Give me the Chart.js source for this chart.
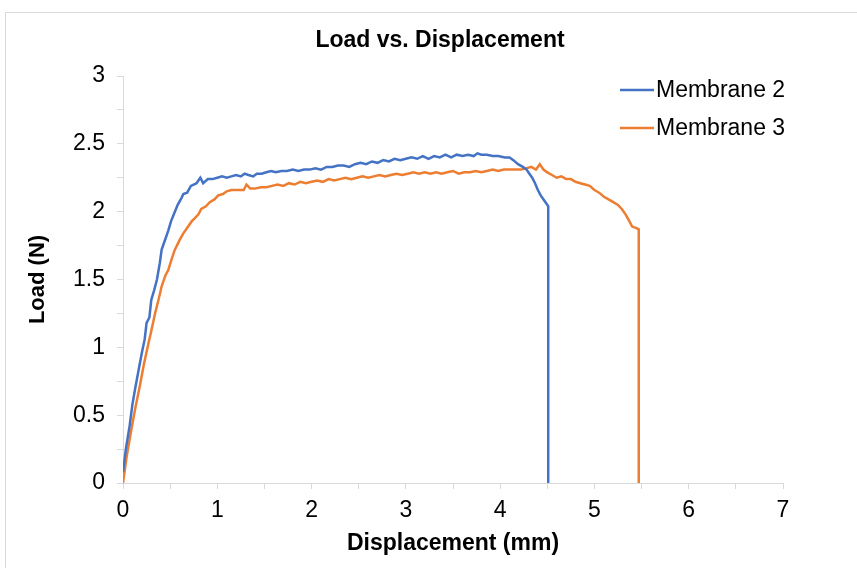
<!DOCTYPE html>
<html>
<head>
<meta charset="utf-8">
<title>Load vs. Displacement</title>
<script src="https://cdn.jsdelivr.net/npm/chart.js@4/dist/chart.umd.min.js"></script>
<style>
    body { margin: 0; background: #fff; overflow: hidden; }
    #frame { position: absolute; left: 5px; top: 12px; width: 900px; height: 600px; border: 1px solid #d9d9d9; }
    #loadChart { position: absolute; left: 0; top: 0; }
</style>
</head>
<body>
<div id="frame"></div>
<canvas id="loadChart" width="857" height="568"></canvas>
<script>
// Membrane 2 test trace (displacement in mm, load in N)
const m2Disp = [0, 0.03, 0.07, 0.10, 0.13, 0.17, 0.20, 0.23, 0.25, 0.28,
    0.30, 0.33, 0.36, 0.39, 0.41, 0.44, 0.48, 0.51, 0.55, 0.58,
    0.62, 0.64, 0.68, 0.72, 0.75, 0.78, 0.82, 0.85, 0.90, 0.95,
    1.00, 1.05, 1.10, 1.15, 1.20, 1.25, 1.29, 1.33, 1.38, 1.42,
    1.47, 1.52, 1.57, 1.62, 1.68, 1.74, 1.80, 1.86, 1.92, 1.98,
    2.04, 2.10, 2.16, 2.22, 2.28, 2.34, 2.40, 2.46, 2.52, 2.58,
    2.64, 2.70, 2.76, 2.82, 2.88, 2.94, 3.00, 3.06, 3.12, 3.18,
    3.24, 3.30, 3.36, 3.42, 3.48, 3.54, 3.60, 3.66, 3.72, 3.76,
    3.80, 3.86, 3.92, 3.98, 4.05, 4.10, 4.14, 4.19, 4.24, 4.28,
    4.31, 4.34, 4.37, 4.40, 4.43, 4.46, 4.49, 4.51, 4.51];
const m2Load = [0.08, 0.25, 0.42, 0.58, 0.70, 0.85, 0.96, 1.06, 1.18, 1.22,
    1.35, 1.42, 1.50, 1.62, 1.72, 1.78, 1.86, 1.93, 2.00, 2.05,
    2.10, 2.13, 2.14, 2.19, 2.20, 2.21, 2.25, 2.21, 2.24, 2.24,
    2.25, 2.26, 2.25, 2.26, 2.27, 2.26, 2.28, 2.27, 2.26, 2.28,
    2.28, 2.29, 2.30, 2.29, 2.30, 2.30, 2.31, 2.30, 2.31, 2.31,
    2.32, 2.31, 2.33, 2.33, 2.34, 2.34, 2.33, 2.35, 2.36, 2.35,
    2.37, 2.36, 2.38, 2.37, 2.39, 2.38, 2.39, 2.40, 2.39, 2.41,
    2.39, 2.41, 2.40, 2.42, 2.40, 2.42, 2.41, 2.42, 2.41, 2.43,
    2.42, 2.42, 2.41, 2.41, 2.40, 2.40, 2.38, 2.35, 2.33, 2.31,
    2.28, 2.25, 2.21, 2.16, 2.12, 2.09, 2.06, 2.04, 0];

// Membrane 3 test trace
const m3Disp = [0, 0.04, 0.09, 0.13, 0.18, 0.22, 0.27, 0.30, 0.34, 0.38,
    0.41, 0.45, 0.48, 0.52, 0.55, 0.60, 0.64, 0.68, 0.73, 0.76,
    0.80, 0.83, 0.88, 0.92, 0.97, 1.01, 1.06, 1.10, 1.15, 1.22,
    1.28, 1.31, 1.35, 1.40, 1.46, 1.52, 1.58, 1.64, 1.70, 1.76,
    1.82, 1.88, 1.94, 2.00, 2.06, 2.12, 2.18, 2.24, 2.30, 2.36,
    2.42, 2.48, 2.54, 2.60, 2.66, 2.72, 2.78, 2.84, 2.90, 2.96,
    3.02, 3.08, 3.14, 3.20, 3.26, 3.32, 3.38, 3.44, 3.50, 3.56,
    3.62, 3.68, 3.74, 3.80, 3.86, 3.92, 3.98, 4.04, 4.10, 4.16,
    4.22, 4.28, 4.33, 4.38, 4.42, 4.46, 4.50, 4.55, 4.60, 4.65,
    4.70, 4.75, 4.80, 4.85, 4.90, 4.95, 5.00, 5.05, 5.10, 5.15,
    5.20, 5.25, 5.29, 5.33, 5.37, 5.40, 5.44, 5.47, 5.47];
const m3Load = [0, 0.20, 0.40, 0.55, 0.72, 0.87, 1.03, 1.12, 1.25, 1.36,
    1.45, 1.53, 1.57, 1.66, 1.72, 1.79, 1.84, 1.88, 1.93, 1.95,
    1.98, 2.02, 2.04, 2.07, 2.09, 2.12, 2.13, 2.15, 2.16, 2.16,
    2.16, 2.20, 2.17, 2.17, 2.18, 2.18, 2.19, 2.20, 2.19, 2.21,
    2.20, 2.22, 2.21, 2.22, 2.23, 2.22, 2.24, 2.23, 2.24, 2.25,
    2.24, 2.25, 2.26, 2.25, 2.26, 2.27, 2.26, 2.27, 2.28, 2.27,
    2.28, 2.29, 2.28, 2.29, 2.28, 2.29, 2.28, 2.29, 2.30, 2.28,
    2.29, 2.29, 2.30, 2.29, 2.30, 2.31, 2.30, 2.31, 2.31, 2.31,
    2.31, 2.32, 2.33, 2.31, 2.35, 2.31, 2.29, 2.27, 2.25, 2.26,
    2.24, 2.24, 2.22, 2.21, 2.20, 2.19, 2.16, 2.14, 2.11, 2.09,
    2.07, 2.05, 2.02, 1.98, 1.93, 1.89, 1.88, 1.87, 0];

const seriesNames = ['Membrane 2', 'Membrane 3'];
const seriesColors = ['#4472C4', '#ED7D31'];
const chartTitle = 'Load vs. Displacement';

const xMax = 7, yMax = 3;

const FONT = 'Arial, "Liberation Sans", sans-serif';
const AXIS_GREY = '#d9d9d9';

function toPoints(xs, ys) {
    return xs.map((x, i) => ({x: x, y: ys[i]}));
}

// title centred over the whole frame, legend in the upper right of the plot
const overlay = {
    id: 'overlay',
    afterDraw(chart) {
        const ctx = chart.ctx;
        ctx.save();
        ctx.fillStyle = '#000';
        ctx.textBaseline = 'middle';
        ctx.textAlign = 'center';
        ctx.font = 'bold 23px ' + FONT;
        ctx.fillText(chartTitle, 440, 41);

        ctx.textAlign = 'left';
        ctx.font = '23px ' + FONT;
        chart.data.datasets.forEach((ds, i) => {
            const y = 90 + i * 38;
            ctx.strokeStyle = ds.borderColor;
            ctx.lineWidth = 2.5;
            ctx.beginPath();
            ctx.moveTo(620, y);
            ctx.lineTo(654, y);
            ctx.stroke();
            ctx.fillText(ds.label, 656, y + 1);
        });
        ctx.restore();
    }
};

const chart = new Chart(document.getElementById('loadChart'), {
    type: 'scatter',
    data: {
        datasets: [
            {label: seriesNames[0], data: toPoints(m2Disp, m2Load)},
            {label: seriesNames[1], data: toPoints(m3Disp, m3Load)}
        ].map((ds, i) => Object.assign(ds, {
            showLine: true,
            borderColor: seriesColors[i],
            backgroundColor: seriesColors[i],
            borderWidth: 2.5,
            pointRadius: 0,
            tension: 0
        }))
    },
    options: {
        responsive: false,
        animation: false,
        layout: {padding: {left: 0, right: 74, top: 76, bottom: 0}},
        plugins: {
            legend: {display: false},
            tooltip: {enabled: false},
            title: {display: false}
        },
        scales: {
            x: {
                type: 'linear',
                min: 0, max: xMax,
                afterFit(scale) { scale.height = 85; },
                border: {color: AXIS_GREY, width: 1},
                grid: {drawOnChartArea: false, drawTicks: true, tickLength: 6, color: AXIS_GREY},
                ticks: {
                    stepSize: 0.5,
                    color: '#000',
                    font: {family: FONT, size: 23},
                    padding: 8,
                    maxRotation: 0,
                    autoSkip: false,
                    callback: v => Number.isInteger(v) ? String(v) : ''
                },
                title: {
                    display: true,
                    text: 'Displacement (mm)',
                    color: '#000',
                    font: {family: FONT, size: 23, weight: 'bold', lineHeight: 1.2},
                    padding: {top: 0, bottom: 11}
                }
            },
            y: {
                type: 'linear',
                min: 0, max: yMax,
                afterFit(scale) { scale.width = 123; },
                border: {color: AXIS_GREY, width: 1},
                grid: {drawOnChartArea: false, drawTicks: true, tickLength: 6, color: AXIS_GREY},
                ticks: {
                    stepSize: 0.25,
                    color: '#000',
                    font: {family: FONT, size: 23},
                    padding: 12,
                    autoSkip: false,
                    callback: v => (Math.round(v * 100) % 50 === 0) ? String(v) : ''
                },
                title: {
                    display: true,
                    text: 'Load (N)',
                    color: '#000',
                    font: {family: FONT, size: 22, weight: 'bold', lineHeight: 1.2},
                    padding: {top: 25, bottom: 0}
                }
            }
        }
    },
    plugins: [overlay]
});
</script>
</body>
</html>
